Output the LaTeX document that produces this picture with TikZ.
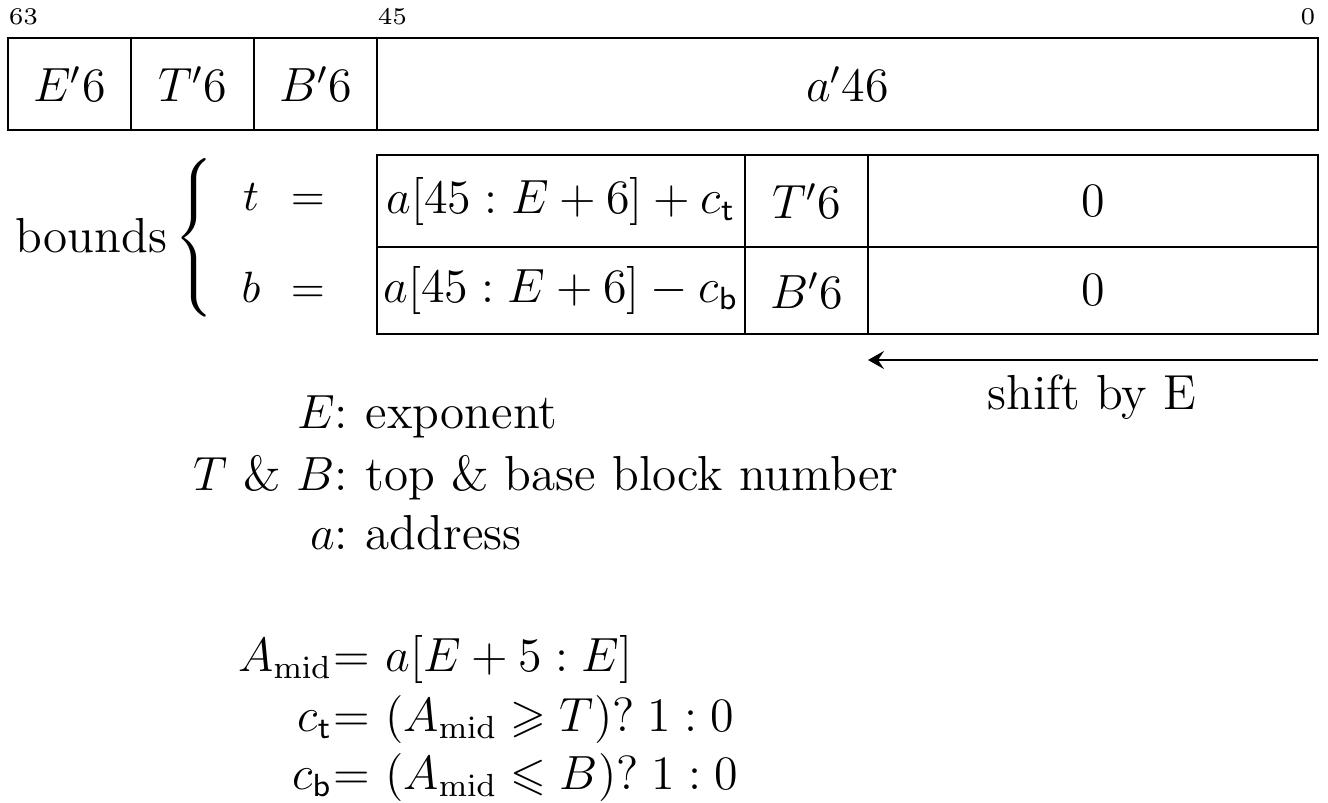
\documentclass[tikz,border=0pt]{standalone}
\usepackage{amsmath,amssymb}
\usetikzlibrary{arrows.meta}
\begin{document}
\begin{tikzpicture}[x=0.25pt,y=-0.25pt,
  cell/.style={draw,line width=0.5pt,inner sep=0pt,outer sep=0pt,anchor=center},
  toprow/.style={cell,minimum height=23pt,font=\fontsize{12}{14}\selectfont},
  rowt/.style={cell,minimum height=23pt,font=\fontsize{11.5}{13}\selectfont},
  rowb/.style={cell,minimum height=21.75pt,font=\fontsize{11.5}{13}\selectfont},
  bits/.style={font=\fontsize{6}{7}\selectfont,inner sep=0pt},
  txt/.style={font=\fontsize{12.3}{14}\selectfont,inner sep=0pt},
  eqn/.style={font=\fontsize{11.5}{14}\selectfont,inner sep=0pt},
  lbl/.style={font=\fontsize{11.3}{13}\selectfont,inner sep=0pt,anchor=base}]
\useasboundingbox (0,0) rectangle (1328,803);
% bit positions
\node[bits,anchor=base west] (b63) at (8,24) {63};
\node[bits,anchor=base west] (b45) at (377,24) {45};
\node[bits,anchor=base east] (b0) at (1316,24) {0};
% top register
\node[toprow,minimum width=30.75pt] (E) at (69.5,84) {$E'6$};
\node[toprow,minimum width=30.75pt] (T) at (192.5,84) {$T'6$};
\node[toprow,minimum width=30.75pt] (B) at (315.5,84) {$B'6$};
\node[toprow,minimum width=235.25pt] (A) at (847.5,84) {$a'46$};
% bounds
\node[rowt,minimum width=92pt] (t1) at (561,201) {$a[45:E+6]+c_{\mathsf{t}}$};
\node[rowt,minimum width=30.75pt] (t2) at (806.5,201) {$T'6$};
\node[rowt,minimum width=112.5pt] (t3) at (1093,201) {$0$};
\node[rowb,minimum width=92pt] (u1) at (561,290.5) {$a[45:E+6]-c_{\mathsf{b}}$};
\node[rowb,minimum width=30.75pt] (u2) at (806.5,290.5) {$B'6$};
\node[rowb,minimum width=112.5pt] (u3) at (1093,290.5) {$0$};
% labels
\node[txt,anchor=base east] (bounds) at (168,252) {bounds};
\node[inner sep=0pt,font=\fontsize{11}{13}\selectfont] (brace) at (196,238) {$\left\{\vrule height 17pt depth 17pt width 0pt\right.$};
\node[lbl] (tl) at (251,210) {$t$};
\node[lbl] (te) at (308,210) {$=$};
\node[lbl] (bl) at (251,302) {$b$};
\node[lbl] (be) at (308,302) {$=$};
% shift arrow
\coordinate (sa) at (u3.south east |- 0,360);
\coordinate (sb) at (u3.south west |- 0,360);
\draw[-{Stealth[length=4pt,width=4.5pt,inset=1.5pt]},line width=0.5pt] (sa) -- (sb);
\node[txt,anchor=base] (shift) at (1092,409) {shift by E};
% legend
\node[txt,anchor=base east] (k1) at (349,428) {$E$:};
\node[txt,anchor=base west] (v1) at (349,428) {\ exponent};
\node[txt,anchor=base east] (k2) at (349,490) {$T$ \& $B$:};
\node[txt,anchor=base west] (v2) at (349,490) {\ top \& base block number};
\node[txt,anchor=base east] (k3) at (349,549) {$a$:};
\node[txt,anchor=base west] (v3) at (349,549) {\ address};
% equations
\node[eqn,anchor=base east] (q1l) at (333,671) {$A_{\mathrm{mid}}$};
\node[eqn,anchor=base west] (q1r) at (333,671) {$=$ $a[E+5:E]$};
\node[eqn,anchor=base east] (q2l) at (333,731) {$c_{\mathsf{t}}$};
\node[eqn,anchor=base west] (q2r) at (333,731) {$=$ $(A_{\mathrm{mid}}\geqslant T)?\;1:0$};
\node[eqn,anchor=base east] (q3l) at (333,789) {$c_{\mathsf{b}}$};
\node[eqn,anchor=base west] (q3r) at (333,789) {$=$ $(A_{\mathrm{mid}}\leqslant B)?\;1:0$};
\end{tikzpicture}
\end{document}
